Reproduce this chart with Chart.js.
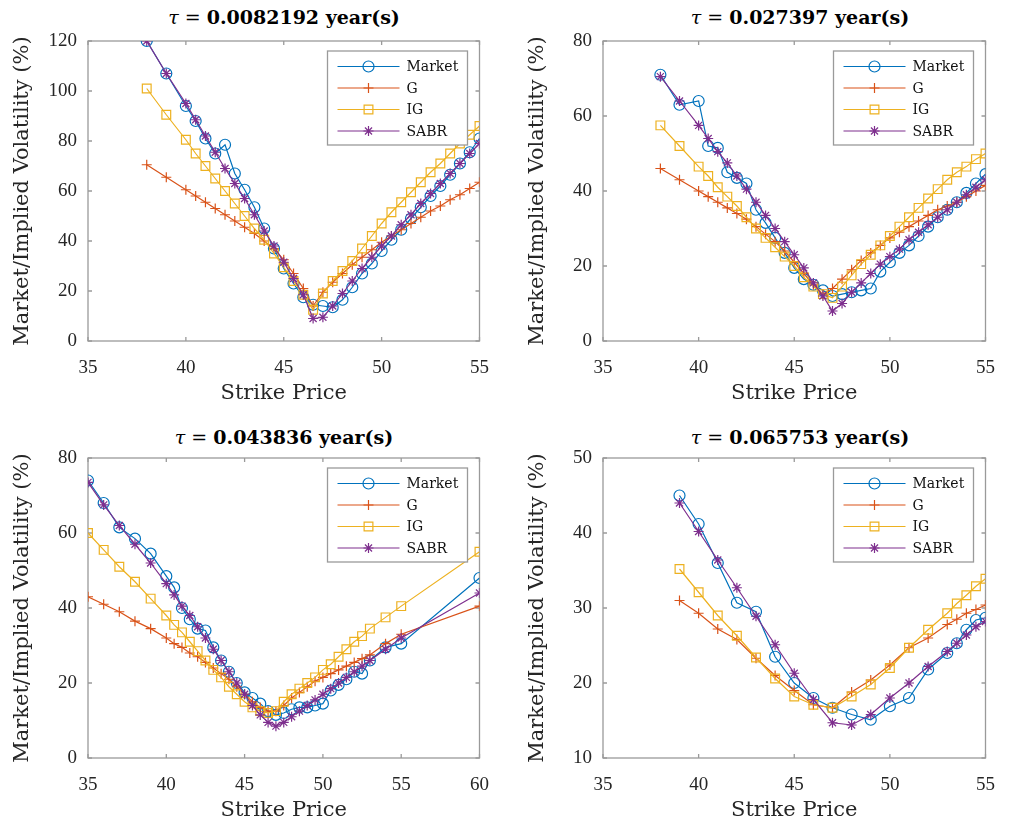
<!DOCTYPE html>
<html>
<head>
<meta charset="utf-8">
<script src="https://cdn.jsdelivr.net/npm/chart.js@4.4.0/dist/chart.umd.min.js"></script>
<style>
  body { margin:0; background:#fff; width:1011px; height:825px; overflow:hidden; position:relative; }
  .panel { position:absolute; }
  .ttl { position:absolute; font:bold 19px "DejaVu Serif", serif; line-height:24px; color:#000; white-space:nowrap; transform:translateX(-50%); }
  .ttl .n { font-weight:normal; }
</style>
</head>
<body>
<div class="ttl" style="left:284px;top:5px"><span class="n"><i>τ</i> = </span>0.0082192 year(s)</div>
<div class="ttl" style="left:800px;top:5px"><span class="n"><i>τ</i> = </span>0.027397 year(s)</div>
<div class="ttl" style="left:284px;top:425px"><span class="n"><i>τ</i> = </span>0.043836 year(s)</div>
<div class="ttl" style="left:800px;top:425px"><span class="n"><i>τ</i> = </span>0.065753 year(s)</div>

<div class="panel" style="left:0;top:0"><canvas id="c1" width="505" height="408"></canvas></div>
<div class="panel" style="left:515px;top:0"><canvas id="c2" width="496" height="408"></canvas></div>
<div class="panel" style="left:0;top:417px"><canvas id="c3" width="505" height="408"></canvas></div>
<div class="panel" style="left:515px;top:417px"><canvas id="c4" width="496" height="408"></canvas></div>

<script>
// tau = 0.0082192
const strikes1 = [38,39,40,40.5,41,41.5,42,42.5,43,43.5,44,44.5,45,45.5,46,46.5,47,47.5,48,48.5,49,49.5,50,50.5,51,51.5,52,52.5,53,53.5,54,54.5,55];
const market1 = [120,107,94,88,81,75,78.5,67,60.5,53.5,45,37,29,23,17.5,14.5,14,13.5,16.5,21.5,27,31,36,40.5,44.5,49,53.5,58,62,66.5,71,75.5,81];
const g1      = [70.5,65.5,60.5,58,55.5,53,50.5,48,45.5,43,40,37,32.5,27,21,14,19.5,23.5,27,30.5,33.5,36.5,39.5,42,44.5,47,49.5,52,54,56.5,58.5,61,63.5];
const ig1     = [101,90.5,80.5,75,70,65,60,55,50,45,40.5,35,29.5,24,18.5,12.5,19,24,28,32,37,42,47,51.5,55.5,59.5,63.5,67.5,71,75,79,82.5,86];
const sabr1   = [120,107,95,88.5,82,75.5,69,63,57,50.5,44,38,31.5,25,18.5,9,9.5,14,19,24,29,33.5,38,42,46.5,50.5,55,59,63,67,71,75,79];

// tau = 0.027397
const strikes2 = [38,39,40,40.5,41,41.5,42,42.5,43,43.5,44,44.5,45,45.5,46,46.5,47,47.5,48,48.5,49,49.5,50,50.5,51,51.5,52,52.5,53,53.5,54,54.5,55];
const market2 = [71,63,64,52,51.5,45,43.5,42,35,31.5,27.5,23.5,19.5,16.5,15,13.5,12,12.5,13,13.5,14,18.5,21,23.5,25.5,28,30.5,33,35,37,39.5,42,44.5];
const g2      = [46,43,40,38.5,37,35.5,34,32.5,30.5,28.5,26.5,24,21,18,15,12.5,14,16.5,19,21.5,23.5,25.5,27.5,29,30.5,32,33.5,35,36,37,38.5,40,41.5];
const ig2     = [57.5,52,46.5,44,41,38.5,36,33,30,27.5,25,22.5,20,17,14.5,12.5,11.5,14.5,17.5,20.5,23,25.5,28,30.5,33,35.5,38,40.5,43,45,46.5,48.5,50];
const sabr2   = [70.5,64,57.5,54,50.5,47.5,44,40.5,37,33.5,30,26.5,23,19.5,15.5,12,8,10,13,15.5,18,20.5,22.5,24.5,27,29,31,33,35,37,39,41,43];

// tau = 0.043836
const strikes3 = [35,36,37,38,39,40,40.5,41,41.5,42,42.5,43,43.5,44,44.5,45,45.5,46,46.5,47,47.5,48,48.5,49,49.5,50,50.5,51,51.5,52,52.5,53,54,55,60];
const market3 = [74,68,61.5,58.5,54.5,48.5,45.5,40,37,34.5,34,29.5,26,23,20,17.5,16,14.5,12.5,11.5,12,13,13.5,13.5,14,14.5,18,19.5,21,23,22.5,26,29.5,30.5,48];
const g3      = [43,41,39,36.5,34.5,32,30.5,29.5,28,27,25.5,24,22.5,21,19,17,15,13.5,12.5,12.5,14,16,17.5,19,20.5,21.5,22.5,23.5,24.5,25.5,26.5,27.5,30.5,33,40.5];
const ig3     = [60,55.5,51,47,42.5,38,35.5,33.5,31,28.5,26,23.5,21.5,19,17,15,13.5,12.5,12,12.5,15,17,18.5,20,21.5,23.5,25,27,29,31,32.5,34.5,37.5,40.5,55];
const sabr3   = [73.5,67.5,62,57,52,46.5,43.5,40.5,38,35,32,29,26,23,20,17,14,11.5,9.5,8.5,9.5,11,12.5,14,15.5,17,18.5,20,21.5,23,24.5,26,29,32,44];

// tau = 0.065753
const strikes4 = [39,40,41,42,43,44,45,46,47,48,49,50,51,52,53,53.5,54,54.5,55];
const market4 = [45,41.2,36,30.7,29.5,23.5,20,18,16.7,15.8,15.1,16.9,18,21.8,24,25.3,27.1,28.4,28.7];
const g4      = [31,29.3,27.2,25.8,23.3,21,19,17.1,16.7,18.8,20.4,22.4,24.7,26,27.8,28.5,29.3,29.8,30.4];
const ig4     = [35.2,32.1,29,26.3,23.4,20.6,18.2,17.1,16.7,18.2,19.8,22,24.7,27.1,29.3,30.6,31.7,32.9,33.9];
const sabr4   = [44,40.2,36.4,32.7,28.9,25.1,21.3,17.8,14.7,14.4,15.8,18,20,22.2,24.2,25.3,26.4,27.5,28.2];

// tick labels
const xTicksA = [35,40,45,50,55];
const xTicksB = [35,40,45,50,55,60];
const yTicks1 = [0,20,40,60,80,100,120];
const yTicks2 = [0,20,40,60,80];
const yTicks3 = [0,20,40,60,80];
const yTicks4 = [10,20,30,40,50];

const serif = '"Liberation Serif", serif';
const wide = '"DejaVu Serif", serif';
const axisGray = '#9a9a9a';

// caja y ticks hacia adentro, estilo matlab
const boxPlugin = {
    id: 'matlabBox',
    beforeDatasetsDraw(chart){
        const {ctx, chartArea: a, scales} = chart;
        ctx.save();
        ctx.strokeStyle = axisGray;
        ctx.lineWidth = 1.3;
        ctx.strokeRect(a.left, a.top, a.right - a.left, a.bottom - a.top);
        ctx.beginPath();
        scales.x.ticks.forEach(t => {
            const px = scales.x.getPixelForValue(t.value);
            ctx.moveTo(px, a.bottom); ctx.lineTo(px, a.bottom - 4);
            ctx.moveTo(px, a.top); ctx.lineTo(px, a.top + 4);
        });
        scales.y.ticks.forEach(t => {
            const py = scales.y.getPixelForValue(t.value);
            ctx.moveTo(a.left, py); ctx.lineTo(a.left + 4, py);
            ctx.moveTo(a.right, py); ctx.lineTo(a.right - 4, py);
        });
        ctx.stroke();
        ctx.restore();
    }
};

// leyenda con linea + marcador
const legendPlugin = {
    id: 'boxLegend',
    afterDatasetsDraw(chart){
        const {ctx, chartArea: a} = chart;
        const w = 140, h = 94;
        const left = a.right - 12 - w, top = a.top + 10;
        ctx.save();
        ctx.fillStyle = '#fff';
        ctx.fillRect(left, top, w, h);
        ctx.strokeStyle = axisGray;
        ctx.lineWidth = 1.3;
        ctx.strokeRect(left, top, w, h);
        chart.data.datasets.forEach((ds, i) => {
            const yy = top + 15.5 + i * 21.5;
            ctx.strokeStyle = ds.borderColor;
            ctx.lineWidth = ds.borderWidth;
            ctx.beginPath();
            ctx.moveTo(left + 10, yy);
            ctx.lineTo(left + 72, yy);
            ctx.stroke();
            ctx.fillStyle = 'rgba(0,0,0,0)';
            Chart.helpers.drawPoint(ctx, {pointStyle: ds.pointStyle, radius: ds.pointRadius, borderWidth: ds.borderWidth, rotation: 0}, left + 41, yy);
            ctx.fillStyle = '#111';
            ctx.font = '14px ' + wide;
            ctx.textBaseline = 'middle';
            ctx.textAlign = 'left';
            ctx.fillText(ds.label, left + 79, yy + 1);
        });
        ctx.restore();
    }
};

function xy(xs, ys){
    return xs.map((x, i) => ({x: x, y: ys[i]}));
}

function serie(label, xs, ys, color, style, radius, order){
    return {
        label: label,
        data: xy(xs, ys),
        borderColor: color,
        backgroundColor: 'rgba(0,0,0,0)',
        pointBackgroundColor: 'rgba(0,0,0,0)',
        pointBorderColor: color,
        pointStyle: style,
        pointRadius: radius,
        pointBorderWidth: 1.2,
        borderWidth: 1.2,
        tension: 0,
        order: order
    };
}

function graficar(id, strikes, market, g, ig, sabr, xTicks, yTicks, rightPad){
    new Chart(document.getElementById(id), {
        type: 'line',
        data: {
            datasets: [
                serie('Market', strikes, market, '#0072BD', 'circle', 5.5, 4),
                serie('G', strikes, g, '#D95319', 'cross', 5, 3),
                serie('IG', strikes, ig, '#EDB120', 'rect', 6.2, 2),
                serie('SABR', strikes, sabr, '#7E2F8E', 'star', 5, 1)
            ]
        },
        options: {
            responsive: false,
            animation: false,
            layout: { padding: { top: 41, right: rightPad, left: 0, bottom: 0 } },
            plugins: { legend: { display: false }, tooltip: { enabled: false } },
            scales: {
                x: {
                    type: 'linear',
                    min: xTicks[0],
                    max: xTicks[xTicks.length - 1],
                    afterBuildTicks: s => { s.ticks = xTicks.map(v => ({value: v})); },
                    afterFit: s => { s.height = 67; },
                    grid: { display: false, drawTicks: false },
                    border: { display: false },
                    ticks: { color: '#262626', font: { family: serif, size: 19 }, padding: 16, maxRotation: 0 },
                    title: { display: true, text: 'Strike Price', color: '#262626', font: { family: wide, size: 21 }, padding: { top: 0, bottom: 2 } }
                },
                y: {
                    type: 'linear',
                    min: yTicks[0],
                    max: yTicks[yTicks.length - 1],
                    afterBuildTicks: s => { s.ticks = yTicks.map(v => ({value: v})); },
                    afterFit: s => { s.width = 88; },
                    grid: { display: false, drawTicks: false },
                    border: { display: false },
                    ticks: { color: '#262626', font: { family: serif, size: 19 }, padding: 11 },
                    title: { display: true, text: 'Market/Implied Volatility (%)', color: '#262626', font: { family: wide, size: 21 }, padding: { top: 10, bottom: 0 } }
                }
            }
        },
        plugins: [boxPlugin, legendPlugin]
    });
}

graficar('c1', strikes1, market1, g1, ig1, sabr1, xTicksA, yTicks1, 24);
graficar('c2', strikes2, market2, g2, ig2, sabr2, xTicksA, yTicks2, 14);
graficar('c3', strikes3, market3, g3, ig3, sabr3, xTicksB, yTicks3, 24);
graficar('c4', strikes4, market4, g4, ig4, sabr4, xTicksA, yTicks4, 14);
</script>
</body>
</html>
